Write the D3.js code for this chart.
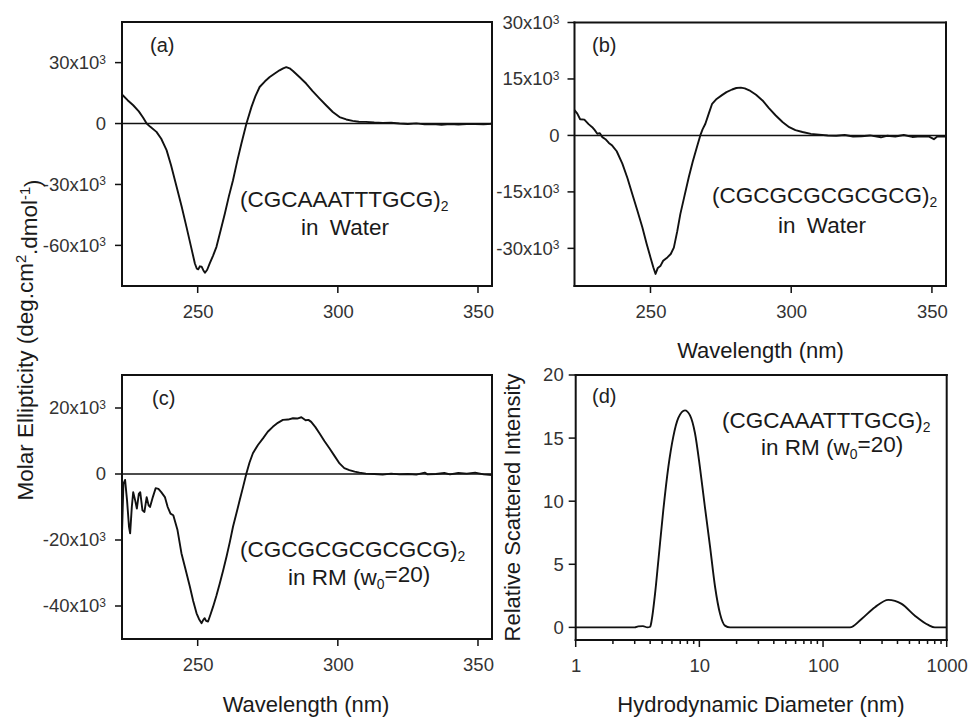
<!DOCTYPE html>
<html><head><meta charset="utf-8">
<script src="https://cdn.jsdelivr.net/npm/d3@7"></script>
<style>
body{margin:0;background:#fff;}
svg{display:block;font-family:"Liberation Sans",Arial,Helvetica,sans-serif;}
</style></head><body>
<svg id="chart" width="970" height="718"></svg>
<script>
// ---------- DATA ----------
// Panel (a): (CGCAAATTTGCG)2 in water, molar ellipticity in 10^3 deg.cm2.dmol-1
const wlA = [223,225,227,229,230.5,231.8,233,235.3,237,238.9,240.5,242.5,244.3,246,247.6,249,249.7,250.2,250.8,251.4,252,252.6,253.4,254.3,255.5,256.7,258.2,259.7,261.1,262.6,264.1,265.6,267.4,269.2,270.6,272.1,274,275.7,277.5,279.2,280.5,281.6,282.8,284,286.3,288.7,291,293.5,295.8,298.2,300.6,303,305.3,307.5,310,313,316,319,322,325,328,331,334,337,340,343,346,349,352,355];
const cdA = [14.3,11.5,9.0,6.0,3.0,0,-1.5,-4.1,-7.5,-13.1,-20.5,-31.2,-41,-50.9,-60.5,-68.9,-71.5,-71.8,-70.3,-70.5,-72.2,-73.5,-72,-68.9,-65,-60.7,-52.5,-44.3,-36,-27.9,-18.5,-9.8,0,8.2,13.5,18.0,20.8,22.9,24.6,26.2,27.2,27.8,27.2,25.9,22.9,19.7,16,12.3,9.0,5.7,3.2,2.0,1.3,0.9,0.8,0.5,0.3,0.4,0.0,-0.2,0.1,-0.4,-0.3,-0.6,-0.2,-0.5,-0.3,-0.2,-0.4,-0.1];
// Panel (b): (CGCGCGCGCGCG)2 in water
const wlB = [223,224,225,226.5,228,229.3,230.2,231.1,232,232.9,234,235.2,236.4,238,240,241.8,243.5,245.3,247.1,248.6,250,251,251.8,252.6,253.6,254.5,256,257.2,258.3,259.5,260.6,262.1,263.6,265,266.5,267.7,268.5,269.5,270.7,271.9,273.5,275.4,277,279,280.5,282.1,283.5,285.1,287.5,289.8,292,294.5,297,299.3,301.5,304,307,309.9,313,316,319,322,325,328,331.9,334,337,340,343,346,349,350.7,352,355];
const cdB = [6.7,5.8,4.3,4.2,3.0,2.2,1.4,0.45,0.6,-0.45,-1.0,-2.0,-2.7,-4.2,-7.5,-11.3,-15.5,-19.9,-24.4,-28.7,-32.4,-35.0,-36.8,-35.2,-34.6,-33.3,-32.4,-31.5,-29.8,-25.5,-20.9,-16.0,-11.1,-7.0,-3.1,0,1.6,3.1,5.8,8.4,9.7,10.7,11.5,12.2,12.6,12.7,12.5,12.0,10.8,9.3,7.3,5.3,3.5,2.2,1.4,0.9,0.4,0.2,0.0,-0.1,0.1,-0.3,-0.2,0.0,-0.5,-0.1,-0.3,0.1,-0.4,-0.2,-0.3,-1.0,-0.2,-0.3];
// Panel (c): (CGCGCGCGCGCG)2 in RM (w0=20)
const wlC = [223,223.5,224.1,224.8,225.5,225.9,226.5,227,227.7,228.3,229,229.5,230.3,231,231.8,232.5,233,234,235,236,237,238.3,239.3,240.3,241.3,242.8,244.2,245.7,247.2,248.4,249.6,250.5,251.4,252,252.5,253,253.7,254.6,255.5,256.7,257.9,259.1,260.3,261.5,262.6,263.8,265,266.2,267.4,268.5,269.7,271.5,273.3,275,276.8,278.6,280.4,282.2,284,285.5,287,288.5,289.5,290.5,292,293.5,295.2,297,298.8,300.6,302.3,304.1,306,307.7,310,313,316,319,322,325,328,331,332,335,338,340,343,346,349,352,355];
const cdC = [-18,-3,-1.8,-8,-16,-18,-10,-5.5,-8,-10.5,-6,-5.5,-11,-11.5,-7,-9.5,-10,-7,-4.3,-4.5,-5.5,-7,-10,-12,-12.5,-17,-24.0,-29,-34.1,-38.5,-42.2,-44,-45.2,-44.2,-43.7,-44.5,-44.7,-42.5,-40.2,-36.8,-33.1,-29.2,-25.0,-20.5,-16.0,-12,-7.9,-3.9,0.2,3.5,6.3,8.8,10.8,12.8,14.3,15.5,16.4,16.5,16.9,16.8,17.2,16.3,16.4,15.8,14.2,12.3,10.0,7.8,5.5,3.2,1.8,1.2,0.7,0.4,0.1,0.0,-0.2,0.1,-0.1,0.0,-0.2,0.4,-0.1,0.0,0.3,-0.1,0.3,0.1,0.4,-0.1,-0.3];
// Panel (d): DLS size distribution, (CGCAAATTTGCG)2 in RM (w0=20)
const diamD = [1,2,3,3.2,3.5,3.8,4.0,4.11,4.38,4.66,5.11,5.61,6.15,6.76,7.65,8.4,9.21,10.1,11.1,12.2,13.4,14.7,16.1,17.7,50,165,205,263,337,432,553,709,803,1000];
const intD = [0,0,0,0.08,0.1,0.0,0.05,0.53,2.65,5.3,9.3,12.7,15.1,16.6,17.2,16.8,15.4,12.7,9.5,6.4,3.2,1.07,0.14,0,0,0,0.67,1.6,2.18,1.86,0.93,0.19,0,0];

const xTicksCD = [250,300,350];
const yTicksA = [30,0,-30,-60];
const yTicksB = [30,15,0,-15,-30];
const yTicksC = [20,0,-20,-40];
const yTicksD = [0,5,10,15,20];
const xTicksD = [1,10,100,1000];
const xMinorD = [2,3,4,5,6,7,8,9,20,30,40,50,60,70,80,90,200,300,400,500,600,700,800,900];

// ---------- DRAW ----------
const svg = d3.select("#chart");
const TICKCOL = "#333333";
const TICKFS = 18.5;

function sciLabel(sel){
  sel.each(function(d){
    const t = d3.select(this);
    t.text(null);
    if (d === 0) { t.text("0"); return; }
    t.append("tspan").text(d + "x10");
    t.append("tspan").attr("dy","-0.45em").attr("font-size","0.65em").text("3");
  });
}

// labels from d3 axes; tick marks and box drawn as filled rects from the same scales
function labelAxis(g, tr, axis){
  const a = g.append("g").attr("transform", tr).call(axis.tickSize(0));
  a.select(".domain").remove();
  a.attr("font-family", null).attr("font-size", TICKFS);
  a.selectAll(".tick line").remove();
  a.selectAll(".tick text").attr("fill", TICKCOL);
  return a;
}
function boxAndTicks(g, x, y, xt, yt, xMinor){
  const [l, r] = x.range(), [b, t] = y.range();
  const w = 2, tl = 7;
  const edges = [
    {x:l-w/2, y:t-w/2, w:r-l+w, h:w},
    {x:l-w/2, y:b-w/2, w:r-l+w, h:w},
    {x:l-w/2, y:t-w/2, w:w, h:b-t+w},
    {x:r-w/2, y:t-w/2, w:w, h:b-t+w}
  ];
  g.append("g").selectAll("rect").data(edges).join("rect")
    .attr("x",d=>d.x).attr("y",d=>d.y).attr("width",d=>d.w).attr("height",d=>d.h).attr("fill","#111");
  g.append("g").selectAll("rect").data(xt).join("rect")
    .attr("x",d=>x(d)-0.75).attr("y",b).attr("width",1.5).attr("height",tl).attr("fill","#111");
  g.append("g").selectAll("rect").data(yt).join("rect")
    .attr("x",l-tl).attr("y",d=>y(d)-0.75).attr("width",tl).attr("height",1.5).attr("fill","#111");
  if (xMinor) g.append("g").selectAll("rect").data(xMinor).join("rect")
    .attr("x",d=>x(d)-0.75).attr("y",b).attr("width",1.5).attr("height",4).attr("fill","#111");
}

function cdPanel(box, wl, val, yDom, yTicks, tickPad){
  const x = d3.scaleLinear().domain([223,355]).range([box.l, box.r]);
  const y = d3.scaleLinear().domain(yDom).range([box.b, box.t]);
  const g = svg.append("g");
  const pts = wl.map((w,i)=>[w,val[i]]);
  g.append("line").attr("x1",box.l).attr("x2",box.r).attr("y1",y(0)).attr("y2",y(0))
    .attr("stroke","#111").attr("stroke-width",1.6);
  g.append("path").datum(pts)
    .attr("fill","none").attr("stroke","#111").attr("stroke-width",1.9).attr("stroke-linejoin","round")
    .attr("d", d3.line().x(d=>x(d[0])).y(d=>y(d[1])));
  boxAndTicks(g, x, y, xTicksCD, yTicks, null);
  labelAxis(g, `translate(0,${box.b})`, d3.axisBottom(x).tickValues(xTicksCD).tickPadding(19).tickFormat(d3.format("d")));
  const gy = labelAxis(g, `translate(${box.l},0)`, d3.axisLeft(y).tickValues(yTicks).tickPadding(7 + tickPad));
  gy.selectAll(".tick text").call(sciLabel);
  return g;
}

const PA = {l:122,r:492,t:22,b:286};
const PB = {l:574.5,r:946,t:22.5,b:286};
const PC = {l:122,r:492,t:375,b:639};
const PD = {l:575.7,r:946.7,t:375,b:640};

cdPanel(PA, wlA, cdA, [-80,50], yTicksA, 9);
cdPanel(PB, wlB, cdB, [-40,30], yTicksB, 8);
cdPanel(PC, wlC, cdC, [-50,30], yTicksC, 9);

// Panel (d)
(function(){
  const box = PD;
  const x = d3.scaleLog().domain([1,1000]).range([box.l, box.r]);
  const y = d3.scaleLinear().domain([-1,20]).range([box.b, box.t]);
  const g = svg.append("g");
  const pts = diamD.map((dd,i)=>[dd,intD[i]]);
  g.append("path").datum(pts)
    .attr("fill","none").attr("stroke","#111").attr("stroke-width",1.9)
    .attr("d", d3.line().x(d=>x(d[0])).y(d=>y(d[1])).curve(d3.curveMonotoneX));
  boxAndTicks(g, x, y, xTicksD, yTicksD, xMinorD);
  labelAxis(g, `translate(0,${box.b})`, d3.axisBottom(x).tickValues(xTicksD).tickPadding(19).tickFormat(d3.format("d")));
  labelAxis(g, `translate(${box.l},0)`, d3.axisLeft(y).tickValues(yTicksD).tickPadding(12).tickFormat(d3.format("d")));
})();

// ---------- TEXT ----------
function panelLetter(txt,x,y){
  svg.append("text").attr("x",x).attr("y",y).attr("font-size",20).attr("fill","#222").text(txt);
}
panelLetter("(a)",150,52);
panelLetter("(b)",592,52);
panelLetter("(c)",152,405);
panelLetter("(d)",592,403);

const ANNFS = 22.5;
function seqLabel(seq,x,y){
  const t = svg.append("text").attr("x",x).attr("y",y).attr("font-size",ANNFS).attr("fill","#1a1a1a");
  t.append("tspan").text("(" + seq + ")");
  t.append("tspan").attr("dy","0.3em").attr("font-size","0.62em").text("2");
}
function waterLabel(x,y){
  svg.append("text").attr("x",x).attr("y",y).attr("font-size",ANNFS).attr("fill","#1a1a1a")
    .attr("word-spacing","5px").text("in Water");
}
function rmLabel(x,y){
  const t = svg.append("text").attr("x",x).attr("y",y).attr("font-size",ANNFS).attr("fill","#1a1a1a");
  t.append("tspan").text("in RM (w");
  t.append("tspan").attr("dy","0.3em").attr("font-size","0.62em").text("0");
  t.append("tspan").attr("dy","-0.3em").text("=20)");
}
seqLabel("CGCAAATTTGCG",240,207); waterLabel(301,235);
seqLabel("CGCGCGCGCGCG",712,203); waterLabel(778,233);
seqLabel("CGCGCGCGCGCG",240,557); rmLabel(288,585);
seqLabel("CGCAAATTTGCG",722,428); rmLabel(761,455);

// axis titles
function addTitle(txt,x,y){
  return svg.append("text").attr("x",x).attr("y",y).attr("text-anchor","middle")
    .attr("font-size",22).attr("fill","#1a1a1a").text(txt);
}
addTitle("Wavelength (nm)",760.5,358);
addTitle("Wavelength (nm)",306,712);
addTitle("Hydrodynamic Diameter (nm)",761,711.5);
svg.append("text").attr("transform","translate(520,507.5) rotate(-90)").attr("text-anchor","middle")
  .attr("font-size",22).attr("fill","#1a1a1a").text("Relative Scattered Intensity");
(function(){
  const t = svg.append("text").attr("transform","translate(33,340) rotate(-90)").attr("text-anchor","middle")
    .attr("font-size",22.5).attr("fill","#1a1a1a");
  t.append("tspan").text("Molar Ellipticity (deg.cm");
  t.append("tspan").attr("dy","-0.45em").attr("font-size","0.65em").text("2");
  t.append("tspan").attr("dy","0.45em").text(".dmol");
  t.append("tspan").attr("dy","-0.45em").attr("font-size","0.65em").text("-1");
  t.append("tspan").attr("dy","0.45em").text(")");
})();
</script>
</body></html>
